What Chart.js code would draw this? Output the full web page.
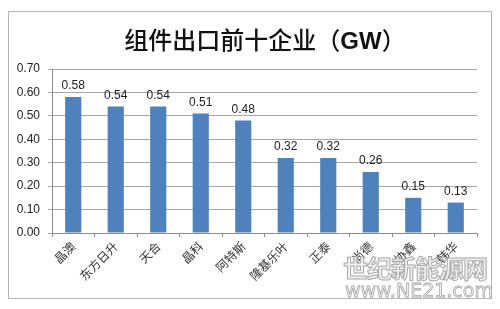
<!DOCTYPE html>
<html>
<head>
<meta charset="utf-8">
<script src="https://cdn.jsdelivr.net/npm/chart.js@4"></script>
<style>
  html, body { margin: 0; padding: 0; background: #fff; }
  #wrap { position: relative; width: 500px; height: 309px; }
  #frame { position: absolute; left: 8px; top: 11px; width: 484px; height: 288px; border: 1px solid #b4b4b4; box-sizing: border-box; pointer-events: none; }
  canvas { position: absolute; left: 0; top: 0; }
  #title { position: absolute; left: 0; width: 530px; top: 23px; text-align: center; font: 500 24px "Noto Sans CJK SC", sans-serif; color: #111; line-height: 32px; white-space: nowrap; }
  #title b { font-weight: 700; font-family: "Liberation Sans", Arial, sans-serif; }
  .wm1 { position: absolute; left: 343px; top: 249px; font: 700 25px "Noto Sans CJK SC", sans-serif; color: rgba(238,238,238,0.85); -webkit-text-stroke: 1px #a8a8a8; letter-spacing: -1px; }
  .wm2 { position: absolute; left: 345px; top: 279px; font: 400 19px "DejaVu Sans", sans-serif; color: rgba(240,240,240,0.8); -webkit-text-stroke: 0.8px #a8a8a8; }
</style>
</head>
<body>
<div id="wrap">
  <canvas id="c" width="500" height="309"></canvas>
  <div id="frame"></div>
  <div id="title"></div>
  <div class="wm1">世纪新能源网</div>
  <div class="wm2">www.NE21.com</div>
</div>
<script>
const categories = ['晶澳', '东方日升', '天合', '晶科', '阿特斯', '隆基乐叶', '正泰', '尚德', '协鑫', '韩华'];
const exportsGW = [0.58, 0.54, 0.54, 0.51, 0.48, 0.32, 0.32, 0.26, 0.15, 0.13];
const yTicks = [0, 0.1, 0.2, 0.3, 0.4, 0.5, 0.6, 0.7];
const titleMain = '组件出口前十企业';
const titleUnit = 'GW';

document.getElementById('title').innerHTML = titleMain + '（<b>' + titleUnit + '</b>）';

const valueLabels = {
  id: 'valueLabels',
  afterDatasetsDraw(chart) {
    const ctx = chart.ctx;
    const meta = chart.getDatasetMeta(0);
    ctx.save();
    ctx.font = '12px "Liberation Sans", Arial, sans-serif';
    ctx.fillStyle = '#222';
    ctx.textAlign = 'center';
    ctx.textBaseline = 'bottom';
    meta.data.forEach((el, i) => {
      ctx.fillText(exportsGW[i].toFixed(2), el.x, el.y - 5);
    });
    ctx.restore();
  }
};

new Chart(document.getElementById('c'), {
  type: 'bar',
  data: {
    labels: categories,
    datasets: [{
      data: exportsGW,
      backgroundColor: '#4f81bd',
      borderWidth: 0,
      categoryPercentage: 1.0,
      barPercentage: 0.38
    }]
  },
  options: {
    responsive: false,
    animation: false,
    devicePixelRatio: 1,
    layout: { padding: { left: 0, right: 23, top: 69, bottom: 0 } },
    plugins: {
      legend: { display: false },
      tooltip: { enabled: false },
      title: { display: false }
    },
    scales: {
      x: {
        grid: { display: true, drawOnChartArea: false, drawTicks: true, tickLength: 4, color: '#8c8c8c', offset: true },
        border: { display: true, color: '#8c8c8c' },
        ticks: {
          color: '#333',
          font: { family: '"Noto Sans CJK SC", sans-serif', size: 12 },
          maxRotation: 45, minRotation: 45,
          autoSkip: false,
          padding: 2
        },
        afterFit(axis) { axis.height = 76; }
      },
      y: {
        min: 0, max: 0.7,
        afterBuildTicks(axis) { axis.ticks = yTicks.map(v => ({ value: v })); },
        grid: { color: '#a6a6a6', tickLength: 4, drawTicks: true },
        border: { display: true, color: '#8c8c8c' },
        ticks: {
          color: '#222',
          font: { family: '"Liberation Sans", Arial, sans-serif', size: 12 },
          padding: 8,
          callback: v => Number(v).toFixed(2)
        },
        afterFit(axis) { axis.width = 52; }
      }
    }
  },
  plugins: [valueLabels]
});
</script>
</body>
</html>
